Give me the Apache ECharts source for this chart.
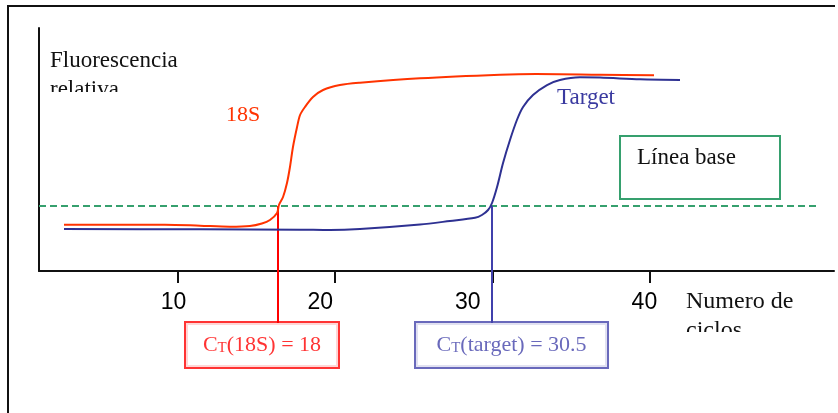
<!DOCTYPE html>
<html><head><meta charset="utf-8">
<script src="https://cdn.jsdelivr.net/npm/echarts@6/dist/echarts.min.js"></script>
<style>html,body{margin:0;padding:0;background:#fff}#c{width:838px;height:413px}</style>
</head><body><div id="c"></div>
<script>
// ---- data ----
const cycles18S = [2.80, 9.21, 11.43, 13.33, 14.60, 15.36, 15.87, 16.32, 16.44, 16.70, 16.95, 17.14, 17.33, 17.59, 17.78, 18.09, 18.60, 19.24, 20.31, 21.58, 25.39, 30.47, 32.75, 36.81, 40.24];
const fluor18S  = [19.05, 19.05, 18.64, 18.23, 18.52, 19.55, 20.99, 23.87, 27.16, 30.45, 36.21, 42.80, 51.03, 59.26, 64.20, 67.49, 71.60, 74.49, 76.54, 77.49, 79.30, 80.78, 81.07, 80.78, 80.53];
const cyclesTarget = [2.80, 11.43, 17.78, 19.68, 21.58, 25.39, 27.29, 28.88, 29.32, 29.71, 29.96, 30.28, 30.66, 31.10, 31.54, 31.93, 32.56, 33.45, 34.27, 35.54, 36.81, 39.35, 41.89];
const fluorTarget  = [17.28, 17.16, 17.00, 16.87, 17.28, 19.14, 20.58, 21.89, 23.05, 25.10, 27.98, 34.57, 44.44, 53.91, 62.14, 67.49, 72.43, 76.54, 78.60, 79.71, 79.63, 78.89, 78.60];
const threshold = 26.75;
const thresholdRange = [1.215, 50.58];
const ct18S = 16.38;
const ctTarget = 29.96;
const ctLabelLevel = -21.4;
const xTicks = [10, 20, 30, 40];
const ctText18S = '{m|C}{s|T}{m|(18S) = 18}';
const ctTextTarget = '{m|C}{s|T}{m|(target) = 30.5}';

const zip = (a, b) => a.map((v, i) => [v, b[i]]);
const serif = 'Liberation Serif';
const labelShift = {10: 7.7, 20: 29.7, 30: 49.7, 40: 11.7};

const chart = echarts.init(document.getElementById('c'), null, {renderer: 'canvas'});
const ctLabel = (color, text, w, dx) => ({
  show: true, position: 'inside', offset: [dx, 22],
  formatter: text, width: w, padding: [11, 0, 11, 0],
  align: 'center', verticalAlign: 'middle',
  borderColor: color, borderWidth: 2, backgroundColor: '#fff',
  rich: {
    m: {fontFamily: serif, fontSize: 22, color: color, verticalAlign: 'bottom', lineHeight: 22},
    s: {fontFamily: serif, fontSize: 15, color: color, verticalAlign: 'bottom', lineHeight: 18}
  }
});

chart.setOption({
  animation: false,
  backgroundColor: '#fff',
  grid: {left: 39, right: 4, top: 28, bottom: 142},
  xAxis: {
    type: 'value', min: 1.215, max: 51.66,
    axisLine: {show: true, lineStyle: {color: '#111', width: 2}},
    axisTick: {show: true, customValues: xTicks, length: 12, lineStyle: {color: '#111', width: 2}},
    axisLabel: {
      show: true, customValues: xTicks, margin: 20,
      fontFamily: 'Liberation Sans', fontSize: 23, color: '#000',
      formatter: v => '{t' + v + '|' + v + '}',
      rich: Object.fromEntries(xTicks.map(v => ['t' + v, {fontFamily: 'Liberation Sans', fontSize: 23, color: '#000', padding: [0, labelShift[v], 0, 0]}]))
    },
    splitLine: {show: false}
  },
  yAxis: {
    type: 'value', min: 0, max: 100,
    axisLine: {show: true, lineStyle: {color: '#111', width: 2}},
    axisTick: {show: false}, axisLabel: {show: false}, splitLine: {show: false}
  },
  series: [
    {type: 'line', data: [[thresholdRange[0], threshold], [thresholdRange[1], threshold]], symbol: 'none',
     lineStyle: {color: '#36a06e', width: 2, type: [7, 4]}, z: 1},
    {type: 'line', data: zip(cycles18S, fluor18S), symbol: 'none', smooth: 0.3,
     lineStyle: {color: '#ff3300', width: 2}, z: 3},
    {type: 'line', data: zip(cyclesTarget, fluorTarget), symbol: 'none', smooth: 0.3,
     lineStyle: {color: '#2e3192', width: 2}, z: 3},
    {type: 'line', data: [[ct18S, threshold], [ct18S, ctLabelLevel]], symbol: 'none', clip: false,
     lineStyle: {color: '#ff0000', width: 2}, z: 2},
    {type: 'line', data: [[ctTarget, threshold], [ctTarget, ctLabelLevel]], symbol: 'none', clip: false,
     lineStyle: {color: '#4040ac', width: 2}, z: 2},
    {type: 'scatter', data: [[ct18S, ctLabelLevel]], symbolSize: 0, clip: false, silent: true,
     label: ctLabel('#ff0000', ctText18S, 152, -16), z: 4},
    {type: 'scatter', data: [[ctTarget, ctLabelLevel]], symbolSize: 0, clip: false, silent: true,
     label: ctLabel('#4444aa', ctTextTarget, 191, 19.5), z: 4}
  ],
  graphic: [
    {type: 'polyline', shape: {points: [[8, 413], [8, 6], [835, 6]]}, style: {stroke: '#111', lineWidth: 2, fill: null}},
    {type: 'text', x: 50, y: 46, style: {text: 'Fluorescencia\nrelativa', fontFamily: serif, fontSize: 23, lineHeight: 29, fill: '#111', verticalAlign: 'top'}},
    {type: 'rect', shape: {x: 44, y: 92, width: 110, height: 14}, style: {fill: '#fff'}},
    {type: 'text', x: 226, y: 115, style: {text: '18S', fontFamily: serif, fontSize: 22, fill: '#ff3300', verticalAlign: 'middle'}},
    {type: 'text', x: 557, y: 98.3, style: {text: 'Target', fontFamily: serif, fontSize: 23, fill: '#3a3aa0', verticalAlign: 'middle'}},
    {type: 'rect', shape: {x: 620, y: 136, width: 160, height: 63}, style: {fill: null, stroke: '#36a06e', lineWidth: 2}},
    {type: 'text', x: 637, y: 158, style: {text: 'Línea base', fontFamily: serif, fontSize: 23, fill: '#111', verticalAlign: 'middle'}},
    {type: 'text', x: 686, y: 287.5, style: {text: 'Numero de\nciclos', fontFamily: serif, fontSize: 24, lineHeight: 29, fill: '#111', verticalAlign: 'top'}},
    {type: 'rect', shape: {x: 680, y: 332, width: 100, height: 14}, style: {fill: '#fff'}}
  ]
});
</script></body></html>
